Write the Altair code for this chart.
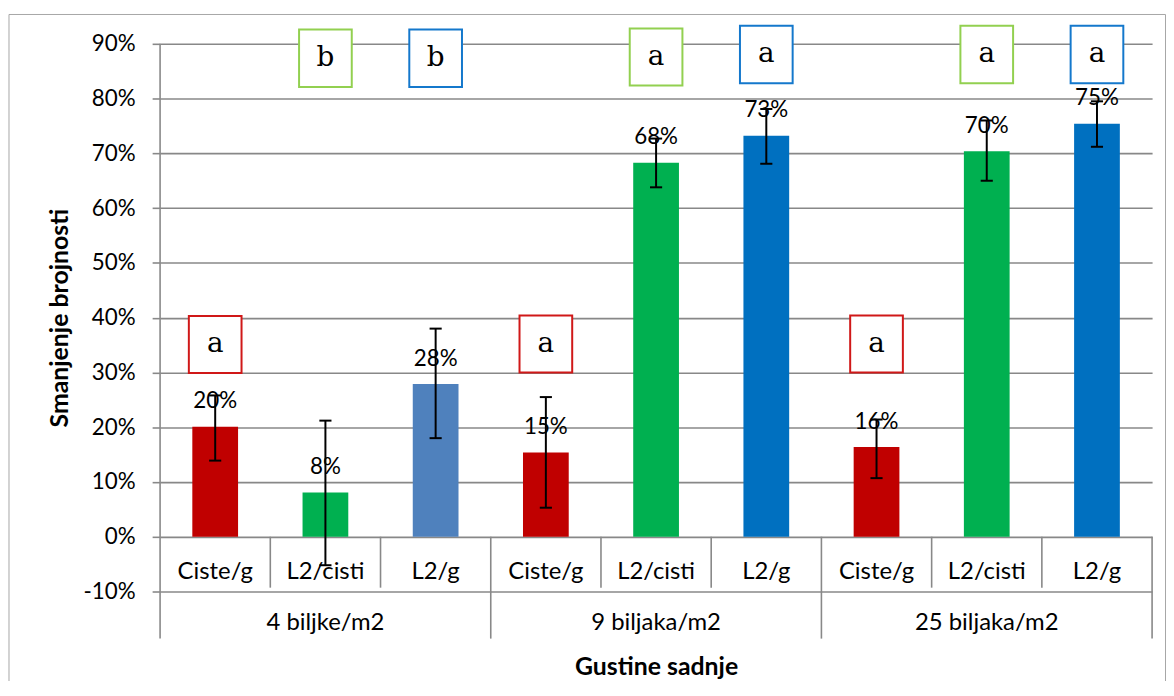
import altair as alt
import pandas as pd

# ---------------- data ----------------
categories = ["Ciste/g", "L2/cisti", "L2/g"] * 3
groups = ["4 biljke/m2", "9 biljaka/m2", "25 biljaka/m2"]
values = [20.1, 8.1, 27.9, 15.4, 68.3, 73.2, 16.4, 70.4, 75.4]
value_labels = ["20%", "8%", "28%", "15%", "68%", "73%", "16%", "70%", "75%"]
err_low = [13.9, -5.2, 18.0, 5.3, 63.8, 68.1, 10.7, 65.0, 71.2]
err_high = [25.8, 21.2, 38.0, 25.5, 72.7, 78.1, 21.4, 76.0, 79.5]
bar_colors = ["#C00000", "#00B050", "#4F81BD",
              "#C00000", "#00B050", "#0070C0",
              "#C00000", "#00B050", "#0070C0"]
letters = ["a", "b", "b", "a", "a", "a", "a", "a", "a"]
box_low = [29.9, 82.1, 82.1, 30.0, 82.4, 82.8, 30.0, 82.8, 82.8]
box_high = [40.3, 92.6, 92.6, 40.4, 92.8, 93.3, 40.4, 93.3, 93.3]
box_colors = ["#D01818", "#92D050", "#1478CC",
              "#D01818", "#92D050", "#1478CC",
              "#D01818", "#92D050", "#1478CC"]
y_ticks = [-10, 0, 10, 20, 30, 40, 50, 60, 70, 80, 90]

# table separators (category index boundaries) below the zero line
sep_x = [0, 1, 2, 3, 4, 5, 6, 7, 8, 9]
sep_top = [90, 0, 0, 0, 0, 0, 0, 0, 0, 0]
sep_bottom = [-18.6, -9.3, -9.3, -18.6, -9.3, -9.3, -18.6, -9.3, -9.3, -18.6]
group_center = [1.5, 4.5, 7.5]

n = len(categories)
df = pd.DataFrame({
    "idx": list(range(n)),
    "cat": categories,
    "value": values,
    "label": value_labels,
    "lo": err_low,
    "hi": err_high,
    "color": bar_colors,
    "letter": letters,
    "blo": box_low,
    "bhi": box_high,
    "bcolor": box_colors,
})
sep_df = pd.DataFrame({"x": sep_x, "top": sep_top, "bottom": sep_bottom})
grp_df = pd.DataFrame({"g": groups, "x": group_center})

FONT = "Lato"
GRID = "#888888"
xscale = alt.Scale(domain=[0, 9], nice=False, zero=False)
yscale = alt.Scale(domain=[-10, 90], nice=False, zero=False)

XAXIS = alt.Axis(title="Gustine sadnje", labels=False, ticks=False,
                 domain=False, grid=False, titleFont=FONT,
                 titleFontSize=25, titleFontWeight="bold",
                 titleColor="black", titleY=84,
                 titleBaseline="alphabetic")
YAXIS = alt.Axis(values=y_ticks, labelExpr="datum.value + '%'",
                 grid=True, gridColor=GRID, gridWidth=1.6,
                 tickColor=GRID, tickWidth=1.6, tickSize=8,
                 domain=False, labelFont=FONT, labelFontSize=22.5,
                 labelColor="black", labelPadding=17,
                 title="Smanjenje brojnosti", titleFont=FONT,
                 titleFontSize=25, titleFontWeight="bold",
                 titleColor="black", titleAngle=270, titleX=-101,
                 titleY=275.5, titleAlign="center",
                 titleBaseline="middle")


def X(field):
    return alt.X(field, scale=xscale, axis=XAXIS)


def Y(field):
    return alt.Y(field, scale=yscale, axis=YAXIS)


base = alt.Chart(df).transform_calculate(
    xc="datum.idx + 0.5",
    xl="datum.idx + 0.5 - 0.2075",
    xr="datum.idx + 0.5 + 0.2075",
    cl="datum.idx + 0.5 - 0.055",
    cr="datum.idx + 0.5 + 0.055",
    bl="datum.idx + 0.5 - 0.239",
    br="datum.idx + 0.5 + 0.239",
    bmid="(datum.blo + datum.bhi) / 2",
    zero="0",
    caty="-7.75",
)

bars = base.mark_rect().encode(
    x=X("xl:Q"), x2="xr:Q",
    y=Y("zero:Q"), y2="value:Q",
    color=alt.Color("color:N", scale=None),
)

seps = alt.Chart(sep_df).mark_rule(color=GRID, strokeWidth=1.6).encode(
    x=X("x:Q"),
    y=Y("top:Q"),
    y2="bottom:Q",
)

err = base.mark_rule(color="black", strokeWidth=2).encode(
    x=X("xc:Q"), y=Y("lo:Q"), y2="hi:Q",
)
cap_lo = base.mark_rule(color="black", strokeWidth=2).encode(
    x=X("cl:Q"), x2="cr:Q", y=Y("lo:Q"),
)
cap_hi = base.mark_rule(color="black", strokeWidth=2).encode(
    x=X("cl:Q"), x2="cr:Q", y=Y("hi:Q"),
)

labels = base.mark_text(font=FONT, fontSize=22.5, color="black",
                        baseline="alphabetic", dy=-18.5).encode(
    x=X("xc:Q"), y=Y("value:Q"), text="label:N",
)

boxes = base.mark_rect(fill="white", strokeWidth=2, clip=False).encode(
    x=X("bl:Q"), x2="br:Q",
    y=Y("blo:Q"), y2="bhi:Q",
    stroke=alt.Stroke("bcolor:N", scale=None),
)
box_text = base.mark_text(font="DejaVu Serif", fontSize=28, color="black",
                          baseline="middle").encode(
    x=X("xc:Q"), y=Y("bmid:Q"), text="letter:N",
)

cat_text = base.mark_text(font=FONT, fontSize=24, color="black",
                          baseline="alphabetic").encode(
    x=X("xc:Q"), y=Y("caty:Q"), text="cat:N",
)

grp_text = alt.Chart(grp_df).transform_calculate(gy="-17.1").mark_text(
    font=FONT, fontSize=24, color="black", baseline="alphabetic"
).encode(
    x=X("x:Q"), y=Y("gy:Q"), text="g:N",
)

frame = alt.Chart(alt.Data(values=[{"k": 1}])).mark_rect(
    fillOpacity=0, stroke="#a6a6a6", strokeWidth=1
).encode(
    x=alt.value(-152), x2=alt.value(1011.5),
    y=alt.value(-29.5), y2=alt.value(720),
)

chart = alt.layer(
    bars, seps, err, cap_lo, cap_hi, labels, boxes, box_text,
    cat_text, grp_text, frame
).properties(
    width=998, height=551,
    padding={"left": 153, "top": 34, "right": 14, "bottom": 88},
    autosize=alt.AutoSizeParams(type="none"),
    background="white",
).configure_view(stroke=None)

chart.save("out.html", embed_options={"renderer": "svg", "actions": False})
